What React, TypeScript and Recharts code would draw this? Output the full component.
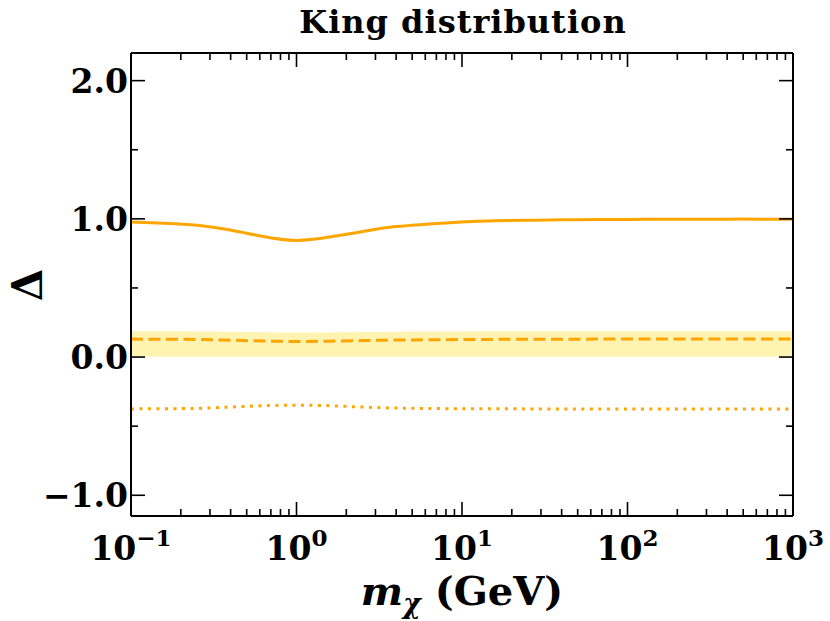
import { ComposedChart, XAxis, YAxis, Line, Area } from "recharts";

// mass grid (GeV) shared by every curve, 0.2 decade steps
const masses = [0.1, 0.158, 0.251, 0.398, 0.631, 1, 1.585, 2.512, 3.981, 6.31, 10, 15.85, 25.12, 39.81, 63.1, 100, 158.5, 251.2, 398.1, 631, 1000];
const solidDelta = [0.978, 0.968, 0.954, 0.92, 0.872, 0.844, 0.868, 0.908, 0.944, 0.962, 0.977, 0.986, 0.99, 0.993, 0.995, 0.996, 0.997, 0.997, 0.998, 0.998, 0.998];
const dashedDelta = [0.13, 0.129, 0.127, 0.122, 0.116, 0.113, 0.115, 0.119, 0.123, 0.125, 0.127, 0.128, 0.129, 0.129, 0.13, 0.13, 0.13, 0.13, 0.13, 0.13, 0.13];
const bandLow = [0.003, 0.003, 0.003, 0.003, 0.003, 0.003, 0.003, 0.003, 0.003, 0.003, 0.003, 0.003, 0.003, 0.003, 0.003, 0.003, 0.003, 0.003, 0.003, 0.003, 0.003];
const bandHigh = [0.186, 0.186, 0.185, 0.183, 0.18, 0.178, 0.18, 0.182, 0.184, 0.185, 0.185, 0.186, 0.186, 0.186, 0.187, 0.187, 0.187, 0.187, 0.187, 0.187, 0.187];
const dottedDelta = [-0.375, -0.374, -0.371, -0.362, -0.352, -0.348, -0.352, -0.362, -0.369, -0.372, -0.374, -0.374, -0.375, -0.375, -0.375, -0.375, -0.375, -0.375, -0.375, -0.375, -0.375];

const xMajor = [0.1, 1, 10, 100, 1000];
const xMinor = [0.1, 1, 10, 100].flatMap((d) => [2, 3, 4, 5, 6, 7, 8, 9].map((k) => +(d * k).toPrecision(3)));
const yMajor = [-1, 0, 1, 2];
const yMinor = [-0.5, 0.5, 1.5];

const rows = masses.map((m, i) => ({
  m,
  solid: solidDelta[i],
  dashed: dashedDelta[i],
  band: [bandLow[i], bandHigh[i]],
  dotted: dottedDelta[i],
}));

const FONT = "'DejaVu Serif', serif";
const ORANGE = "#FFA500";
const MAJOR = 14;
const MINOR = 7;

const isXMajor = (v: number) => xMajor.some((t) => Math.abs(t - v) < 1e-9);
const isYMajor = (v: number) => yMajor.includes(v);

function BottomTick(props: any) {
  const { x, y, payload } = props;
  const major = isXMajor(payload.value);
  const exp = Math.round(Math.log10(payload.value));
  return (
    <g>
      <line x1={x} x2={x} y1={y} y2={y - (major ? MAJOR : MINOR)} stroke="#000" strokeWidth={1.6} />
      {major && (
        <text x={x} y={y + 44} textAnchor="middle" fontFamily={FONT} fontWeight="bold" fontSize={33} fill="#000">
          10
          <tspan dy={-14} fontSize={23}>
            {exp < 0 ? `\u2212${-exp}` : exp}
          </tspan>
        </text>
      )}
    </g>
  );
}

function TopTick(props: any) {
  const { x, y, payload } = props;
  const major = isXMajor(payload.value);
  return <line x1={x} x2={x} y1={y} y2={y + (major ? MAJOR : MINOR)} stroke="#000" strokeWidth={1.6} />;
}

function LeftTick(props: any) {
  const { x, y, payload } = props;
  const v = payload.value;
  const major = isYMajor(v);
  return (
    <g>
      <line x1={x} x2={x + (major ? MAJOR : MINOR)} y1={y} y2={y} stroke="#000" strokeWidth={1.6} />
      {major && (
        <text x={x - 3} y={y} dy="0.36em" textAnchor="end" fontFamily={FONT} fontWeight="bold" fontSize={33} fill="#000">
          {(v < 0 ? "\u2212" : "") + Math.abs(v).toFixed(1)}
        </text>
      )}
    </g>
  );
}

function RightTick(props: any) {
  const { x, y, payload } = props;
  const major = isYMajor(payload.value);
  return <line x1={x} x2={x - (major ? MAJOR : MINOR)} y1={y} y2={y} stroke="#000" strokeWidth={1.6} />;
}

export default function App() {
  return (
    <div style={{ position: "absolute", left: 0, top: 0 }}>
      <ComposedChart width={830} height={621} data={rows} margin={{ top: 52, right: 36, bottom: 0, left: 0 }}>
        <XAxis
          xAxisId="b"
          dataKey="m"
          type="number"
          scale="log"
          domain={[0.1, 1000]}
          allowDataOverflow
          ticks={[...xMajor, ...xMinor]}
          interval={0}
          height={105}
          tickSize={0}
          tickMargin={0}
          tick={BottomTick}
          axisLine={{ stroke: "#000", strokeWidth: 2 }}
        />
        <XAxis
          xAxisId="t"
          orientation="top"
          dataKey="m"
          type="number"
          scale="log"
          domain={[0.1, 1000]}
          allowDataOverflow
          ticks={[...xMajor, ...xMinor]}
          interval={0}
          height={1}
          tickSize={0}
          tickMargin={0}
          tick={TopTick}
          axisLine={{ stroke: "#000", strokeWidth: 2 }}
        />
        <YAxis
          yAxisId="l"
          type="number"
          domain={[-1.15, 2.2]}
          allowDataOverflow
          ticks={[...yMajor, ...yMinor]}
          interval={0}
          width={131}
          tickSize={0}
          tickMargin={0}
          tick={LeftTick}
          axisLine={{ stroke: "#000", strokeWidth: 2 }}
        />
        <YAxis
          yAxisId="r"
          orientation="right"
          type="number"
          domain={[-1.15, 2.2]}
          allowDataOverflow
          ticks={[...yMajor, ...yMinor]}
          interval={0}
          width={1}
          tickSize={0}
          tickMargin={0}
          tick={RightTick}
          axisLine={{ stroke: "#000", strokeWidth: 2 }}
        />
        <Area
          xAxisId="b"
          yAxisId="l"
          dataKey="band"
          type="monotone"
          stroke="none"
          fill="#FFF3B2"
          fillOpacity={1}
          isAnimationActive={false}
          activeDot={false}
        />
        <Line xAxisId="b" yAxisId="l" dataKey="solid" type="natural" stroke={ORANGE} strokeWidth={3} dot={false} activeDot={false} isAnimationActive={false} />
        <Line xAxisId="b" yAxisId="l" dataKey="dashed" type="natural" stroke={ORANGE} strokeWidth={3} strokeDasharray="12 5.5" dot={false} activeDot={false} isAnimationActive={false} />
        <Line xAxisId="b" yAxisId="l" dataKey="dotted" type="natural" stroke={ORANGE} strokeWidth={3} strokeDasharray="3 5.5" dot={false} activeDot={false} isAnimationActive={false} />
        <text x={463} y={33} textAnchor="middle" fontFamily={FONT} fontWeight="bold" fontSize={32} letterSpacing={1} fill="#000">
          King distribution
        </text>
        <text x={462} y={605} textAnchor="middle" fontFamily={FONT} fontWeight="bold" fontSize={40} fill="#000">
          <tspan fontStyle="italic">m</tspan>
          <tspan fontStyle="italic" fontSize={27} dy={8}>χ</tspan>
          <tspan dy={-8}> (GeV)</tspan>
        </text>
        <text x={42} y={285} textAnchor="middle" transform="rotate(-90 42 285)" fontFamily={FONT} fontWeight="bold" fontSize={42} fill="#000">
          Δ
        </text>
      </ComposedChart>
    </div>
  );
}
